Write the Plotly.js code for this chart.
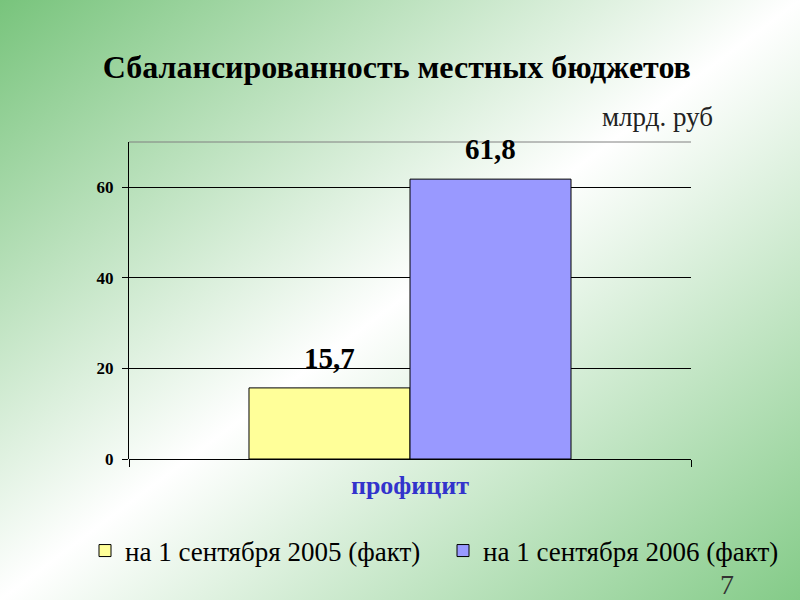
<!DOCTYPE html>
<html>
<head>
<meta charset="utf-8">
<script src="https://cdn.plot.ly/plotly-3.0.1.min.js"></script>
<style>
html,body{margin:0;padding:0;width:800px;height:600px;overflow:hidden;}
body{background:linear-gradient(to bottom right,#78c47c 0%,#ffffff 50%,#84cb88 100%);}
#chart{width:800px;height:600px;}
</style>
</head>
<body>
<div id="chart"></div>
<script>
const categories = ['профицит'];
const seriesNames = ['на 1 сентября 2005 (факт)', 'на 1 сентября 2006 (факт)'];
const values2005 = [15.7];
const values2006 = [61.8];
const yTicks = [0, 20, 40, 60];

const serif = 'Liberation Serif';

const traces = [
  {type:'bar', name:seriesNames[0], x:categories, y:values2005, legend:'legend',
   marker:{color:'#ffff99', line:{color:'#000', width:1}}, hoverinfo:'skip'},
  {type:'bar', name:seriesNames[1], x:categories, y:values2006, legend:'legend2',
   marker:{color:'#9999ff', line:{color:'#000', width:1}}, hoverinfo:'skip'}
];

const fmt = v => v.toFixed(1).replace('.', ',');
const annotations = [
  {x:categories[0], y:values2005[0], xref:'x', yref:'y', xshift:-80.5, yshift:30,
   text:'<b>'+fmt(values2005[0])+'</b>', showarrow:false, font:{family:serif, size:29, color:'#000'}},
  {x:categories[0], y:values2006[0], xref:'x', yref:'y', xshift:80.5, yshift:30,
   text:'<b>'+fmt(values2006[0])+'</b>', showarrow:false, font:{family:serif, size:29, color:'#000'}},
  {x:715, y:117, text:'млрд. руб', showarrow:false,
   xanchor:'right', yanchor:'middle', font:{family:serif, size:27, color:'#222'}},
  {x:727, y:584, text:'7', showarrow:false, xanchor:'center', yanchor:'middle',
   font:{family:serif, size:28, color:'#333'}}
];
const L=129, R=691, T=142, B=459;
for (const a of annotations.slice(2)) {
  a.xref='paper'; a.yref='paper';
  a.x = (a.x - L)/(R-L);
  a.y = (B - a.y)/(B-T);
}

const legendBase = {orientation:'h', xref:'container', y:(600-551)/600, yref:'container', yanchor:'middle',
  font:{family:serif, size:27, color:'#000'}, bgcolor:'rgba(0,0,0,0)', itemwidth:30};

const layout = {
  width:800, height:600,
  paper_bgcolor:'rgba(0,0,0,0)', plot_bgcolor:'rgba(0,0,0,0)',
  margin:{l:L, r:800-R, t:T, b:600-B},
  title:{text:'<b>Сбалансированность местных бюджетов</b>', x:0.496, xanchor:'center',
         y:1-67/600, yanchor:'middle', yref:'container',
         font:{family:serif, size:32, color:'#000'}},
  barmode:'group', bargap:0.427, bargroupgap:0,
  xaxis:{type:'category', showline:false, showgrid:false, zeroline:false,
         ticks:'outside', tickson:'boundaries', ticklen:7, tickcolor:'#000',
         tickfont:{family:serif, size:26, color:'#3333cc', weight:'bold'},
         ticklabelstandoff:8, fixedrange:true},
  yaxis:{range:[0,70], tickvals:yTicks, showline:true, linecolor:'#000', linewidth:1,
         showgrid:true, gridcolor:'#000', gridwidth:1, zeroline:true, zerolinecolor:'#000',
         ticks:'outside', ticklen:6, tickcolor:'#000', ticklabelstandoff:5,
         tickfont:{family:serif, size:17, color:'#000', weight:'bold'}, fixedrange:true},
  showlegend:true,
  legend:Object.assign({}, legendBase, {x:85/800}),
  legend2:Object.assign({}, legendBase, {x:443/800}),
  annotations:annotations,
  shapes:[{type:'line', xref:'paper', yref:'paper', x0:0, x1:1, y0:1, y1:1,
           line:{color:'#808080', width:1}}]
};

Plotly.newPlot('chart', traces, layout, {displayModeBar:false, staticPlot:true});
</script>
</body>
</html>
